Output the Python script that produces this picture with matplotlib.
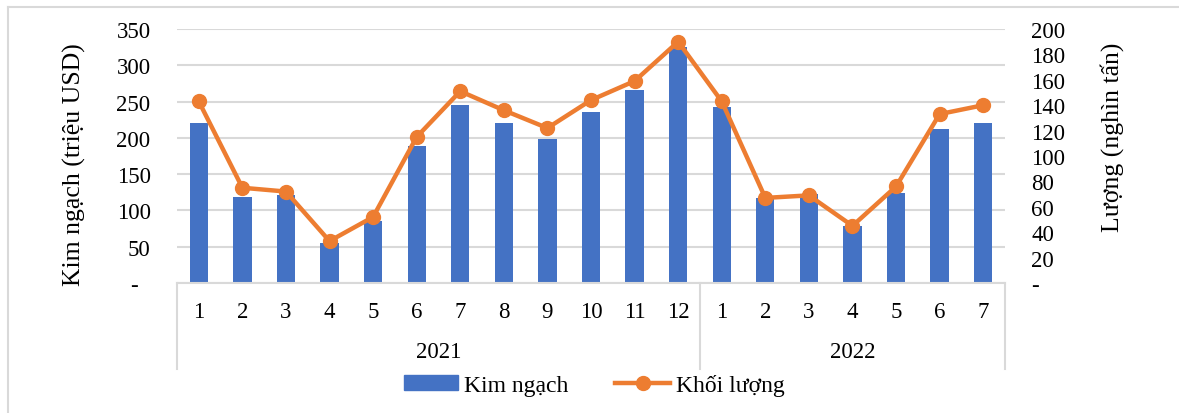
import matplotlib.pyplot as plt
from matplotlib.lines import Line2D
from matplotlib.patches import Patch
import matplotlib.transforms as mtransforms
import numpy as np

plt.rcParams['font.family'] = ['Liberation Serif', 'DejaVu Serif']

# %% data
months = ['1', '2', '3', '4', '5', '6', '7', '8', '9', '10', '11', '12',
          '1', '2', '3', '4', '5', '6', '7']
years = ['2021', '2022']
months_per_year = [12, 7]
kim_ngach = [221, 119, 121, 55, 86, 189, 245, 221, 199, 236, 266, 325,
             243, 117, 122, 78, 124, 212, 220]
khoi_luong = [143, 75, 72, 33, 52, 115, 151, 136, 122, 144, 159, 190,
              143, 67, 69, 45, 76, 133, 140]

bar_color = '#4472C4'
line_color = '#ED7D31'
grid_color = '#D9D9D9'
tick_fs = 16.5
label_fs = 18.5

W, H = 1179, 414
fig = plt.figure(figsize=(W / 100, H / 100), dpi=100)

# chart frame (only left/top visible in the reference)
fig.add_artist(Line2D([8 / W, 8 / W], [0, 1 - 8 / H], color=grid_color, lw=1.5))
fig.add_artist(Line2D([8 / W, 1], [1 - 8 / H, 1 - 8 / H], color=grid_color, lw=1.5))

left, right, top, bottom = 177, 1005, 30, 284
ax = fig.add_axes([left / W, 1 - bottom / H, (right - left) / W, (bottom - top) / H])
x = np.arange(len(months))

ax.bar(x, kim_ngach, width=0.42, color=bar_color, zorder=2)
ax.set_xlim(-0.5, len(months) - 0.5)
ax.set_ylim(0, 350)
ax.set_yticks(np.arange(0, 351, 50))
ax.set_yticklabels(['-  '] + [str(v) for v in range(50, 351, 50)])
ax.yaxis.grid(True, color=grid_color, lw=1.5, zorder=0)
ax.set_axisbelow(True)
for s in ['top', 'right', 'left']:
    ax.spines[s].set_visible(False)
ax.spines['bottom'].set_color(grid_color)
ax.spines['bottom'].set_linewidth(1.5)
ax.tick_params(axis='y', length=0, pad=19, labelsize=tick_fs)
ax.set_xticks([])
ax.set_ylabel('Kim ngạch (triệu USD)', fontsize=label_fs)
axes_h = bottom - top
ax.yaxis.set_label_coords((86 - left) / (right - left), (bottom - 165) / axes_h)

ax2 = ax.twinx()
ax2.plot(x, khoi_luong, color=line_color, lw=3.2, marker='o', markersize=10, zorder=3)
ax2.set_ylim(0, 200)
ax2.set_yticks(np.arange(0, 201, 20))
ax2.set_yticklabels(['-'] + [str(v) for v in range(20, 201, 20)])
for s in ax2.spines.values():
    s.set_visible(False)
ax2.tick_params(axis='y', length=0, pad=19, labelsize=tick_fs)
ax2.set_ylabel('Lượng (nghìn tấn)', fontsize=label_fs)
ax2.yaxis.set_label_coords((1100 - left) / (right - left), (bottom - 137) / axes_h)

# multi-level category axis
trans = mtransforms.blended_transform_factory(ax.transData, ax.transAxes)
for i, m in enumerate(months):
    ax.text(i, -(313 - bottom) / axes_h, m, transform=trans, ha='center', va='center',
            fontsize=tick_fs)
start = 0
seps = [-0.5]
for yr, n in zip(years, months_per_year):
    ax.text(start + (n - 1) / 2, -(353 - bottom) / axes_h, yr, transform=trans,
            ha='center', va='center', fontsize=tick_fs)
    start += n
    seps.append(start - 0.5)
for sx in seps:
    ax.add_line(Line2D([sx, sx], [0, -(370 - bottom) / axes_h], transform=trans,
                       color=grid_color, lw=1.5, clip_on=False))

handles = [Patch(color=bar_color),
           Line2D([], [], color=line_color, lw=3.2, marker='o', markersize=10)]
fig.legend(handles, ['Kim ngạch', 'Khối lượng'], loc='center', ncol=2,
           bbox_to_anchor=(594 / W, 1 - 386 / H), frameon=False, fontsize=17,
           handlelength=2.3, handletextpad=0.25, columnspacing=2.0, handleheight=0.6)

fig.savefig('out.png', dpi=100)
